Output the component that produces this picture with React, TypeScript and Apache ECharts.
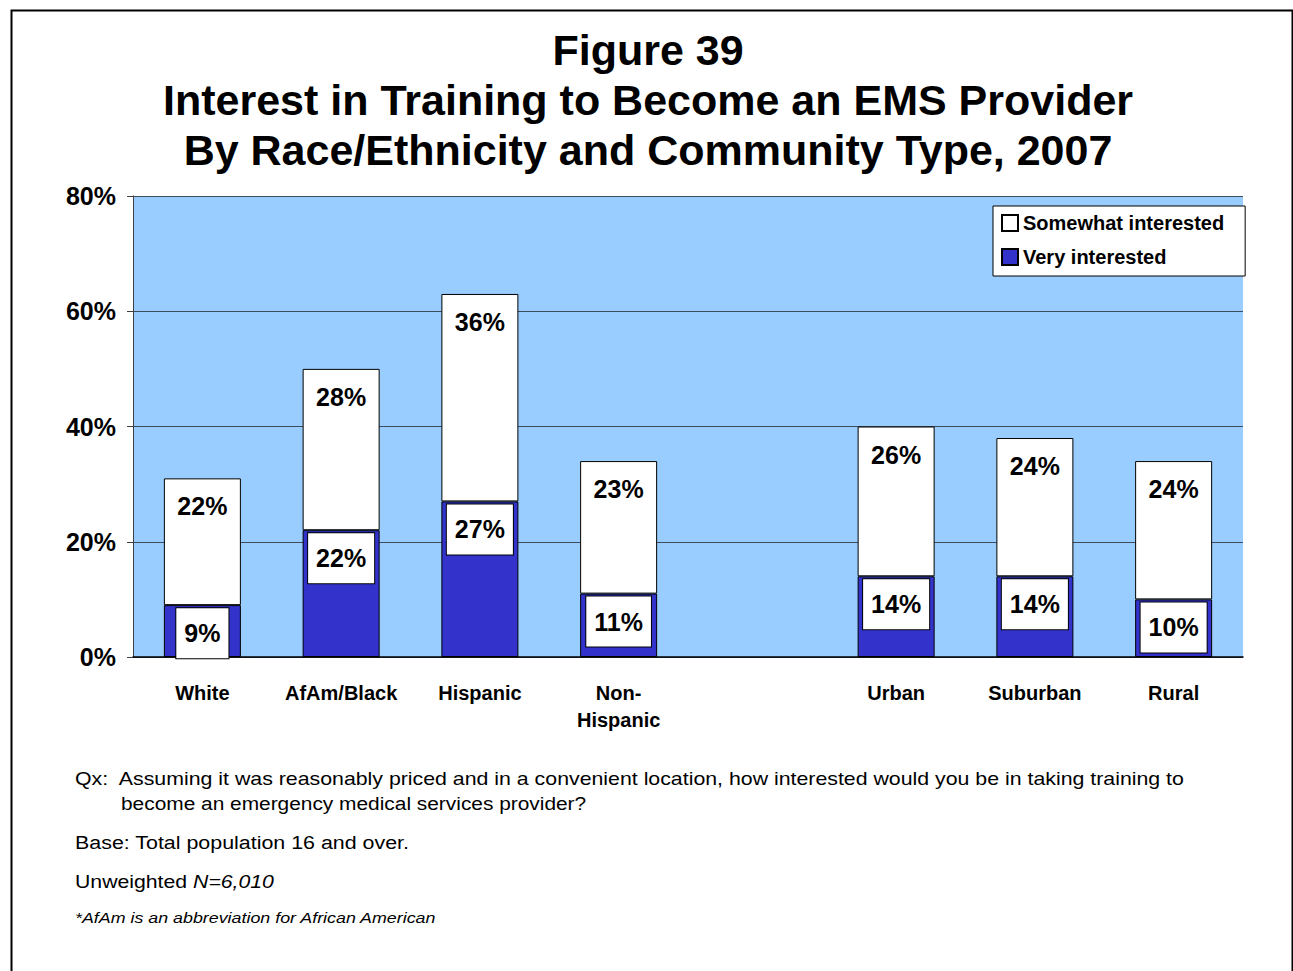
import React, { useEffect, useRef } from "react";
import * as echarts from "echarts";

const categories = ["White", "AfAm/Black", "Hispanic", "Non-\nHispanic", "", "Urban", "Suburban", "Rural"];
const veryInterested = [9, 22, 27, 11, null, 14, 14, 10];
const somewhatInterested = [22, 28, 36, 23, null, 26, 24, 24];
const yTicks = { min: 0, max: 80, interval: 20 };
const titleLines = [
  "Figure 39",
  "Interest in Training to Become an EMS Provider",
  "By Race/Ethnicity and Community Type, 2007",
];
const seriesNames = ["Somewhat interested", "Very interested"];
const footnotes = [
  "Qx:  Assuming it was reasonably priced and in a convenient location, how interested would you be in taking training to",
  "become an emergency medical services provider?",
  "Base: Total population 16 and over.",
  "Unweighted {i|N=6,010}",
  "*AfAm is an abbreviation for African American",
];

const FONT = "'Liberation Sans', Arial, Helvetica, sans-serif";

export default function App() {
  const ref = useRef<HTMLDivElement>(null);
  useEffect(() => {
    if (!ref.current) return;
    const chart = echarts.init(ref.current, undefined, { renderer: "svg" });
    const labelBase = {
      show: true,
      position: "insideTop" as const,
      distance: 3,
      fontFamily: FONT,
      fontSize: 25,
      fontWeight: "bold" as const,
      color: "#000",
      lineHeight: 28,
      padding: [11, 8],
      formatter: (p: any) => (p.value == null ? "" : p.value + "%"),
    };
    const note = (text: string, x: number, y: number, font: string, sx: number, extra: any = {}) => ({
      type: "text",
      x,
      y,
      scaleX: sx,
      silent: true,
      style: { text, font, fill: "#000", verticalAlign: "middle", ...extra },
    });
    chart.setOption({
      animation: false,
      backgroundColor: "#fff",
      textStyle: { fontFamily: FONT },
      legend: {
        data: seriesNames,
        orient: "vertical",
        left: 993,
        top: 206,
        backgroundColor: "#fff",
        borderColor: "#000",
        borderWidth: 1,
        borderRadius: 0,
        padding: [7, 21, 9, 8],
        itemWidth: 16,
        itemHeight: 16,
        itemGap: 14,
        icon: "rect",
        textStyle: { fontFamily: FONT, fontSize: 20, fontWeight: "bold", color: "#000" },
      },
      grid: {
        left: 133,
        right: 50,
        top: 196,
        bottom: 314,
        show: true,
        backgroundColor: "#99CCFF",
        borderWidth: 0,
      },
      xAxis: {
        type: "category",
        data: categories,
        axisTick: { show: false },
        axisLine: { show: true, lineStyle: { color: "#000", width: 1.5 } },
        axisLabel: {
          interval: 0,
          margin: 22,
          fontFamily: FONT,
          fontSize: 20,
          fontWeight: "bold",
          color: "#000",
          lineHeight: 27,
        },
      },
      yAxis: {
        type: "value",
        min: yTicks.min,
        max: yTicks.max,
        interval: yTicks.interval,
        axisLine: { show: true, lineStyle: { color: "#404040", width: 1 } },
        axisTick: { show: true, length: 6, lineStyle: { color: "#404040" } },
        splitLine: { show: true, lineStyle: { color: "#3d4d5d", width: 1 } },
        axisLabel: {
          formatter: "{value}%",
          margin: 17,
          fontFamily: FONT,
          fontSize: 25,
          fontWeight: "bold",
          color: "#000",
        },
      },
      series: [
        {
          name: "Very interested",
          type: "bar",
          stack: "total",
          barWidth: 77,
          data: veryInterested,
          itemStyle: { color: "#3333CC", borderColor: "#000", borderWidth: 1 },
          label: {
            ...labelBase,
            backgroundColor: "#fff",
            borderColor: "#000",
            borderWidth: 1,
          },
        },
        {
          name: "Somewhat interested",
          type: "bar",
          stack: "total",
          barWidth: 77,
          data: somewhatInterested,
          itemStyle: { color: "#fff", borderColor: "#000", borderWidth: 1 },
          label: { ...labelBase },
        },
      ],
      graphic: [
        {
          type: "rect",
          left: 9,
          top: 8,
          shape: { x: 0, y: 0, width: 1281, height: 1000 },
          style: { fill: "none", stroke: "#000", lineWidth: 2 },
          silent: true,
        },
        {
          type: "text",
          x: 648,
          y: 25,
          silent: true,
          style: {
            text: titleLines.join("\n"),
            font: `bold 43px ${FONT}`,
            fill: "#000",
            align: "center",
            verticalAlign: "top",
            lineHeight: 50,
          },
        },
        note(footnotes[0], 75, 779, `18px ${FONT}`, 1.185),
        note(footnotes[1], 121, 804, `18px ${FONT}`, 1.16),
        note(footnotes[2], 75, 843, `18px ${FONT}`, 1.19),
        note(footnotes[3], 75, 882, `18px ${FONT}`, 1.18, {
          rich: { i: { fontStyle: "italic", fontSize: 18, fontFamily: FONT, fill: "#000" } },
        }),
        note(footnotes[4], 75, 918, `italic 15px ${FONT}`, 1.19),
      ],
    });
    return () => chart.dispose();
  }, []);
  return (
    <div
      ref={ref}
      style={{ position: "fixed", left: 0, top: 0, width: 1293, height: 971 }}
    />
  );
}
